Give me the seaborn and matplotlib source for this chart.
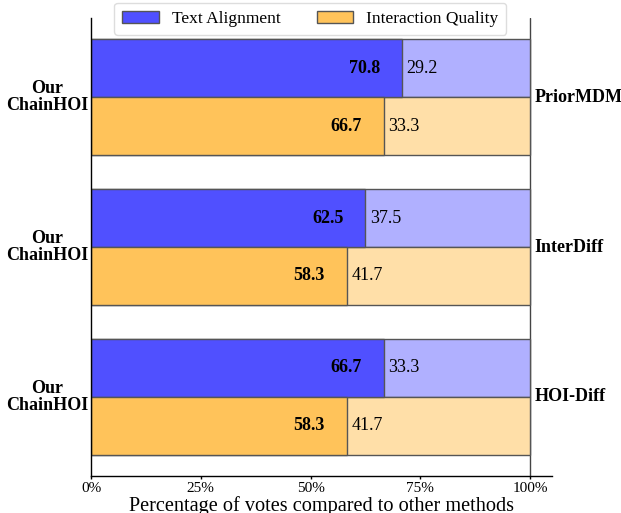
import matplotlib
matplotlib.use("Agg")
import matplotlib.pyplot as plt
import seaborn as sns
import pandas as pd
from matplotlib.patches import Patch

methods = ["PriorMDM", "InterDiff", "HOI-Diff"]
metrics = ["Text Alignment", "Interaction Quality"]
text_alignment = [70.8, 62.5, 66.7]
interaction_quality = [66.7, 58.3, 58.3]
ours_label = "Our\nChainHOI"
xticks = [0, 25, 50, 75, 100]
xtick_labels = ["0%", "25%", "50%", "75%", "100%"]

main_colors = ["#5050FF", "#FFC35A"]
light_colors = ["#B0B0FF", "#FFDFA8"]

rows = []
for m, ta, iq in zip(methods, text_alignment, interaction_quality):
    rows.append({"method": m, "metric": metrics[0], "ours": ta, "total": 100})
    rows.append({"method": m, "metric": metrics[1], "ours": iq, "total": 100})
df = pd.DataFrame(rows)

sns.set_theme(style="white")
plt.rcParams["font.family"] = ["Liberation Serif", "DejaVu Serif"]
plt.rcParams["text.color"] = "black"
plt.rcParams["axes.labelcolor"] = "black"
plt.rcParams["xtick.color"] = "black"
plt.rcParams["ytick.color"] = "black"

fig = plt.figure(figsize=(6.21, 5.13), dpi=100)
ax = fig.add_axes([91 / 621, 1 - 476 / 513, (552 - 91) / 621, (476 - 18) / 513])

W = 0.773
sns.barplot(data=df, y="method", x="total", hue="metric", hue_order=metrics,
            palette=light_colors, order=methods, width=W, dodge=True, orient="h",
            edgecolor="#555555", linewidth=1.0, legend=False, ax=ax, saturation=1)
sns.barplot(data=df, y="method", x="ours", hue="metric", hue_order=metrics,
            palette=main_colors, order=methods, width=W, dodge=True, orient="h",
            edgecolor="#555555", linewidth=1.0, legend=False, ax=ax, saturation=1)

ax.set_xlim(0, 105)
ax.set_ylim(2.527, -0.527)
ax.axvline(100, color="#444444", lw=1.0, zorder=0.5)

# value labels
half = W / 4
for i, m in enumerate(methods):
    for j, vals in enumerate([text_alignment, interaction_quality]):
        v = vals[i]
        yc = i + (-half if j == 0 else half)
        ax.text(v - 5.0, yc, f"{v:.1f}", ha="right", va="center", fontsize=13, fontweight="bold", color="black")
        ax.text(v + 1.0, yc, f"{100 - v:.1f}", ha="left", va="center", fontsize=13, color="black")
    ax.text(-10, i, ours_label, ha="center", va="center", fontsize=13, fontweight="bold",
            linespacing=1.0, clip_on=False, color="black")
    ax.text(101, i, m, ha="left", va="center", fontsize=13, fontweight="bold", clip_on=False, color="black")

ax.set_yticks([])
ax.set_ylabel("")
ax.set_xticks(xticks)
ax.set_xticklabels(xtick_labels, fontsize=11, color="black")
ax.tick_params(axis="x", length=2, width=1, color="black", bottom=True, pad=2)
ax.set_xlabel("Percentage of votes compared to other methods", fontsize=14.6, labelpad=1, color="black")

for s in ["top", "right"]:
    ax.spines[s].set_visible(False)
for s in ["left", "bottom"]:
    ax.spines[s].set_color("black")
    ax.spines[s].set_linewidth(1.0)

handles = [Patch(facecolor=c, edgecolor="#555555", label=l) for c, l in zip(main_colors, metrics)]
leg = ax.legend(handles=handles, loc="upper center", bbox_to_anchor=(0.476, 1 + 15 / 458), ncol=2,
                fontsize=12.5, frameon=True, framealpha=1, edgecolor="#dddddd",
                handlelength=2.1, handleheight=0.65, handletextpad=0.75, columnspacing=2.1,
                borderaxespad=0, borderpad=0.45)
for t in leg.get_texts():
    t.set_color("black")

fig.savefig("out.png", dpi=100)
